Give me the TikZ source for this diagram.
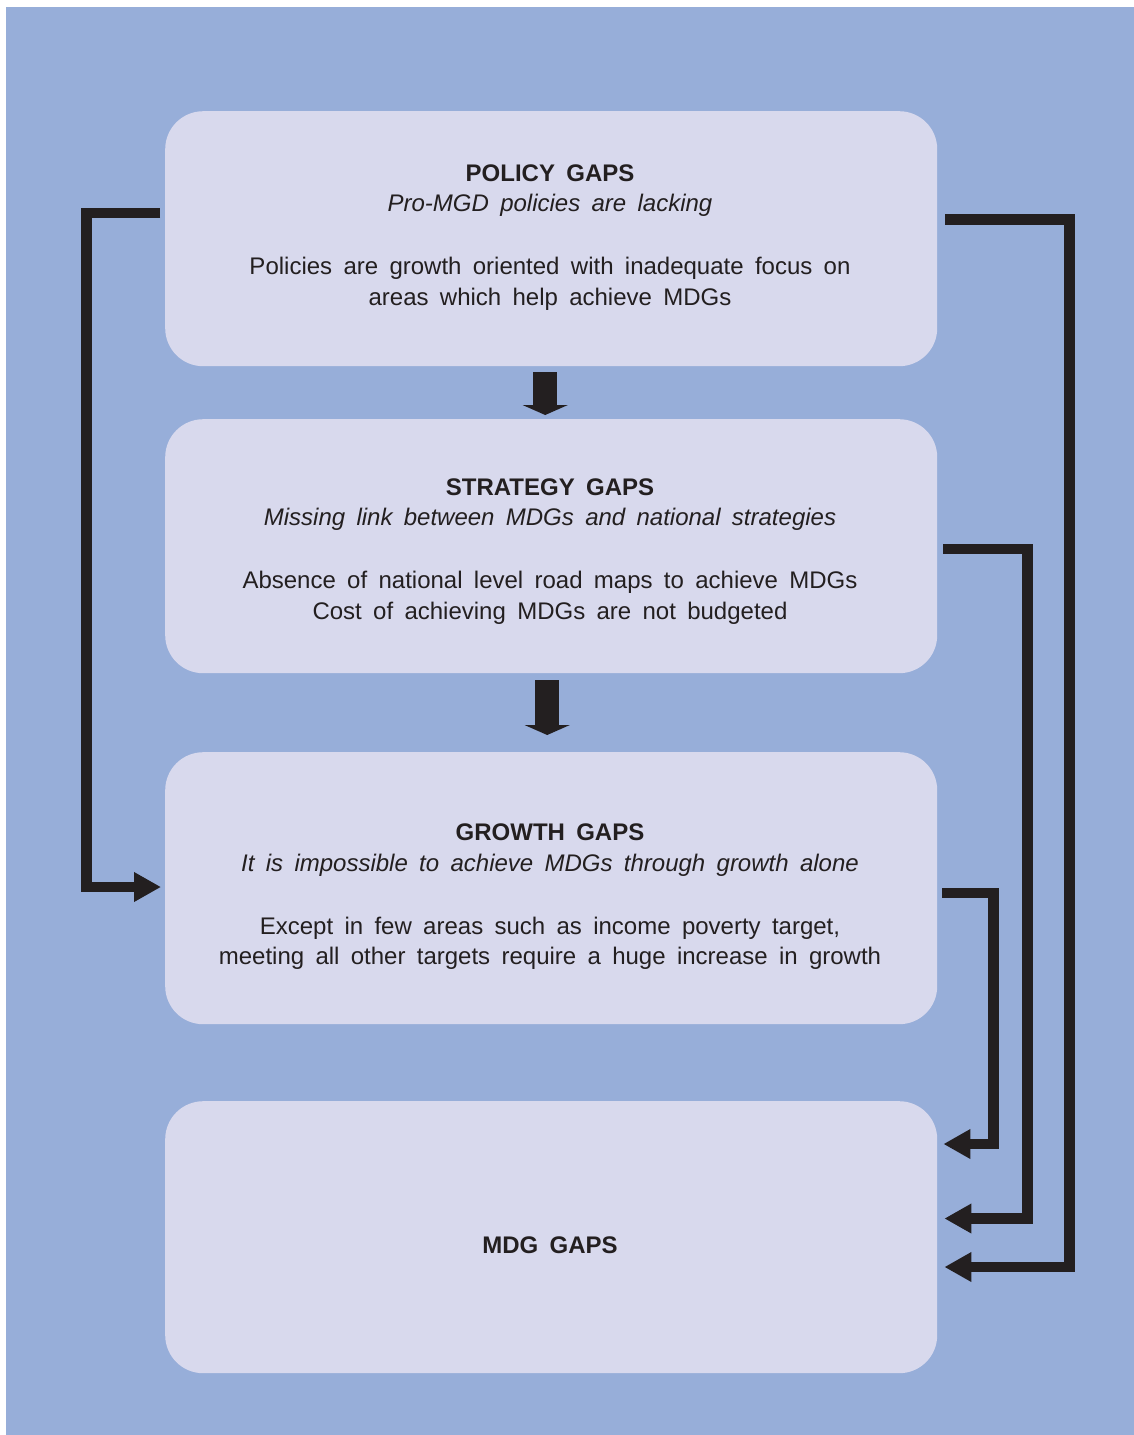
\documentclass[tikz,border=0pt]{standalone}
\usepackage{fontspec}
\setmainfont{Liberation Sans}[WordSpace=1.7]
\usetikzlibrary{arrows.meta,calc}
\definecolor{bg}{HTML}{97AED9}
\definecolor{boxfill}{HTML}{D8D9ED}
\definecolor{ink}{HTML}{231F20}
\begin{document}
\begin{tikzpicture}[x=1pt,y=-1pt,
  gapbox/.style={draw=none, fill=boxfill, rounded corners=38pt, minimum width=772pt, inner sep=0pt, anchor=north west},
  ttl/.style={anchor=base, inner sep=0pt, text=ink, font=\fontsize{24}{30}\selectfont\bfseries},
  sub/.style={anchor=base, inner sep=0pt, text=ink, font=\fontsize{24}{30}\selectfont\itshape},
  txt/.style={anchor=base, inner sep=0pt, text=ink, font=\fontsize{24}{30}\selectfont},
  fb/.style={draw=ink, line width=10.5pt, -{Triangle[length=27pt,width=28pt]}},
  downarrow/.style={draw=ink, line width=24pt, -{Triangle[length=10pt,width=45pt]}}]
\useasboundingbox (0,0) rectangle (1134,1435);
\fill[bg] (6,7) rectangle (1134,1435);

\node[gapbox, minimum height=255pt] (policy) at (165,111) {};
\node[gapbox, minimum height=254pt] (strategy) at (165,419) {};
\node[gapbox, minimum height=272pt] (growth) at (165,752) {};
\node[gapbox, minimum height=272pt] (mdg) at (165,1101) {};

\node[ttl] (policyT) at (550,181) {POLICY GAPS};
\node[sub] (policyS) at (550,211.5) {Pro-MGD policies are lacking};
\node[txt] (policyA) at (550,274) {Policies are growth oriented with inadequate focus on};
\node[txt] (policyB) at (550,305) {areas which help achieve MDGs};

\node[ttl] (strategyT) at (550,495) {STRATEGY GAPS};
\node[sub] (strategyS) at (550,525.5) {Missing link between MDGs and national strategies};
\node[txt] (strategyA) at (550,588) {Absence of national level road maps to achieve MDGs};
\node[txt] (strategyB) at (550,619) {Cost of achieving MDGs are not budgeted};

\node[ttl] (growthT) at (550,840) {GROWTH GAPS};
\node[sub] (growthS) at (550,871.5) {It is impossible to achieve MDGs through growth alone};
\node[txt] (growthA) at (550,934) {Except in few areas such as income poverty target,};
\node[txt] (growthB) at (550,964) {meeting all other targets require a huge increase in growth};

\node[ttl] (mdgT) at (550,1253) {MDG GAPS};

\draw[downarrow] ($(policy.south)+(-6,6)$) -- ($(strategy.north)+(-6,-4)$);
\draw[downarrow] ($(strategy.south)+(-4,7)$) -- ($(growth.north)+(-4,-17)$);

\draw[fb] ($(policy.north west)+(-5,102)$) -- ++(-73.5,0) |- ($(growth.north west)+(-4,135)$);
\draw[fb] ($(policy.north east)+(8,108.5)$) -- ++(124,0) |- ($(mdg.north east)+(7,166)$);
\draw[fb] ($(strategy.north east)+(6,130)$) -- ++(84,0) |- ($(mdg.north east)+(7,117.5)$);
\draw[fb] ($(growth.north east)+(5,141)$) -- ++(51,0) |- ($(mdg.north east)+(6,43)$);
\end{tikzpicture}
\end{document}
